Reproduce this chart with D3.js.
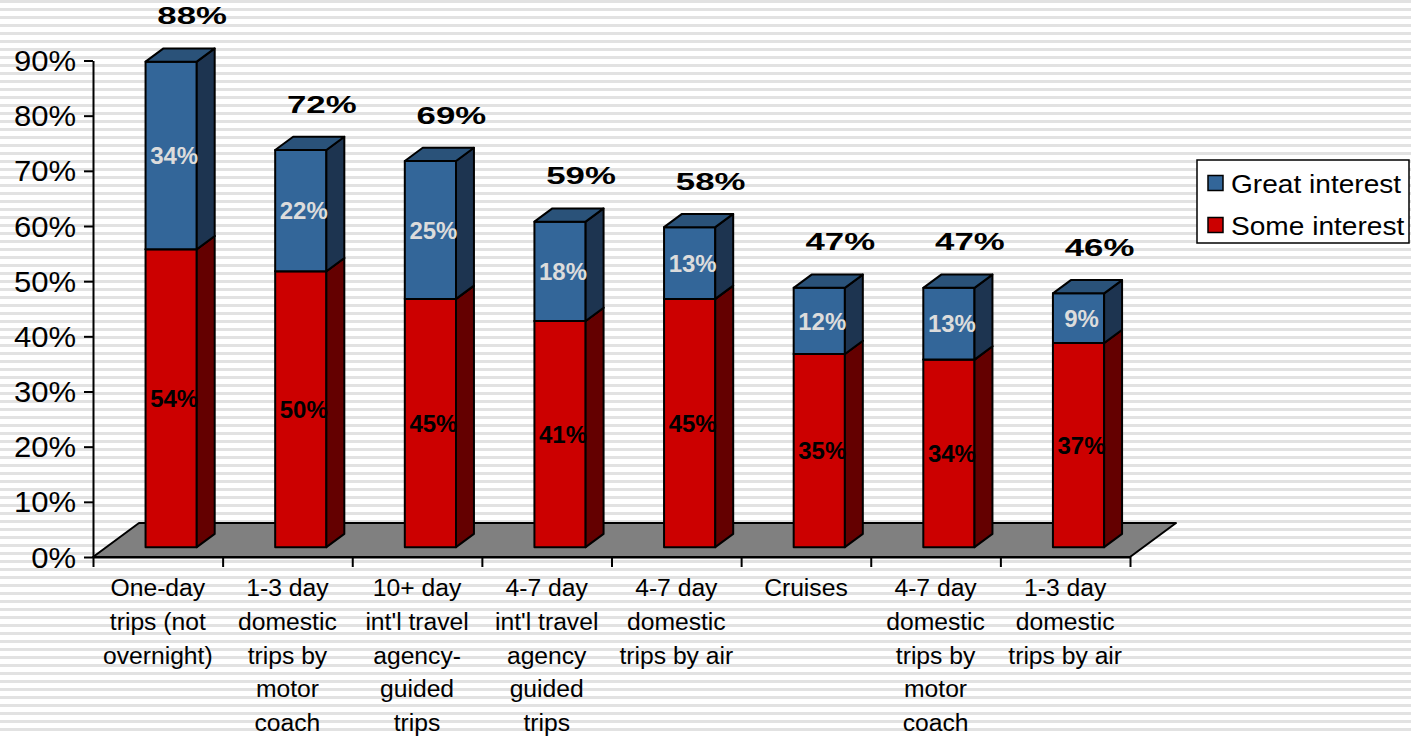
<!DOCTYPE html>
<html>
<head>
<meta charset="utf-8">
<script src="https://cdn.jsdelivr.net/npm/d3@7"></script>
<style>
  body { margin: 0; background: #fff; }
  svg { display: block; }
  text { font-family: "Liberation Sans", Arial, sans-serif; }
</style>
</head>
<body>
<svg id="chart" width="1411" height="736"></svg>
<script>
// Category labels, one entry per wrapped line
const categoryLines = [
  ["One-day", "trips (not", "overnight)"],
  ["1-3 day", "domestic", "trips by", "motor", "coach"],
  ["10+ day", "int'l travel", "agency-", "guided", "trips"],
  ["4-7 day", "int'l travel", "agency", "guided", "trips"],
  ["4-7 day", "domestic", "trips by air"],
  ["Cruises"],
  ["4-7 day", "domestic", "trips by", "motor", "coach"],
  ["1-3 day", "domestic", "trips by air"]
];
const someInterest  = [54, 50, 45, 41, 45, 35, 34, 37];
const greatInterest = [34, 22, 25, 18, 13, 12, 13, 9];
const totalLabels   = ["88%", "72%", "69%", "59%", "58%", "47%", "47%", "46%"];
const yTicks = [0, 10, 20, 30, 40, 50, 60, 70, 80, 90];
const seriesNames = ["Great interest", "Some interest"];

const W = 1411, H = 736;
const svg = d3.select("#chart");

// striped page background
const defs = svg.append("defs");
const pat = defs.append("pattern").attr("id", "stripes")
  .attr("width", 8).attr("height", 8).attr("patternUnits", "userSpaceOnUse");
pat.append("rect").attr("width", 8).attr("height", 8).attr("fill", "#ffffff");
pat.append("rect").attr("y", 0).attr("width", 8).attr("height", 3).attr("fill", "#e2e2e2");
svg.append("rect").attr("width", W).attr("height", H).attr("fill", "url(#stripes)");

// plot geometry
const x0 = 93, x1 = 1130, yBase = 557;
const depth = { dx: 46, dy: -34 };
const x = d3.scaleBand().domain(d3.range(categoryLines.length)).range([x0, x1]);
const xEdges = d3.scaleLinear().domain([0, categoryLines.length]).range([x0, x1]);
const y = d3.scaleLinear().domain([0, 90]).range([yBase, 60.5]);
const tFront = 0.29, tBack = 0.68;
const barW = x.bandwidth() * 0.395;
const ox = tFront * depth.dx, oy = tFront * depth.dy;
const bdx = (tBack - tFront) * depth.dx, bdy = (tBack - tFront) * depth.dy;

const colors = {
  great: { front: "#336699", side: "#1d3450", top: "#2a5279" },
  some:  { front: "#cc0000", side: "#640000", top: "#a00000" }
};

// floor
svg.append("polygon")
  .attr("points", [
    [x0, yBase], [x1, yBase],
    [x1 + depth.dx, yBase + depth.dy], [x0 + depth.dx, yBase + depth.dy]
  ].map(p => p.join(",")).join(" "))
  .attr("fill", "#808080").attr("stroke", "#000").attr("stroke-width", 2)
  .attr("stroke-linejoin", "round");

// axes
const yAxis = svg.append("g").attr("transform", `translate(${x0},0)`)
  .call(d3.axisLeft(y).tickValues(yTicks).tickFormat(d => d + "%")
    .tickSize(9).tickSizeOuter(0));
yAxis.select(".domain").attr("stroke", "#000").attr("stroke-width", 2);
yAxis.selectAll(".tick line").attr("stroke", "#000").attr("stroke-width", 2);
yAxis.selectAll(".tick text")
  .attr("x", 0).attr("dy", null)
  .attr("transform", "translate(-17,10) scale(1.07,1)")
  .attr("font-size", 29).attr("fill", "#000")
  .attr("font-family", "'Liberation Sans', Arial, sans-serif");

const xAxis = svg.append("g").attr("transform", `translate(0,${yBase})`)
  .call(d3.axisBottom(xEdges).tickValues(d3.range(categoryLines.length + 1))
    .tickFormat("").tickSize(10).tickSizeOuter(0));
xAxis.select(".domain").attr("stroke", "#000").attr("stroke-width", 2);
xAxis.selectAll(".tick line").attr("stroke", "#000").attr("stroke-width", 2);

// category labels
const catG = svg.append("g");
categoryLines.forEach((lines, i) => {
  const cx = x(i) + x.bandwidth() / 2;
  lines.forEach((ln, k) => {
    catG.append("text")
      .attr("transform", `translate(${cx},${596 + k * 33.8}) scale(1.05,1)`)
      .attr("text-anchor", "middle").attr("font-size", 23.5).attr("fill", "#000")
      .text(ln);
  });
});

// 3D bars
const pts = a => a.map(p => p.join(",")).join(" ");
function drawSegment(g, i, v0, v1, c) {
  const fx = x(i) + x.bandwidth() / 2 - barW / 2 + ox;
  const yTop = y(v1) + oy, yBot = y(v0) + oy;
  const seg = g.append("g").attr("stroke", "#000").attr("stroke-width", 2)
    .attr("stroke-linejoin", "round");
  seg.append("rect").attr("x", fx).attr("y", yTop)
    .attr("width", barW).attr("height", yBot - yTop).attr("fill", c.front);
  seg.append("polygon").attr("points", pts([
    [fx + barW, yBot], [fx + barW + bdx, yBot + bdy],
    [fx + barW + bdx, yTop + bdy], [fx + barW, yTop]
  ])).attr("fill", c.side);
  seg.append("polygon").attr("points", pts([
    [fx, yTop], [fx + bdx, yTop + bdy],
    [fx + barW + bdx, yTop + bdy], [fx + barW, yTop]
  ])).attr("fill", c.top);
}

const barsG = svg.append("g");
const labelG = svg.append("g");
categoryLines.forEach((_, i) => {
  const s = someInterest[i], g = greatInterest[i];
  drawSegment(barsG, i, 0, s, colors.some);
  drawSegment(barsG, i, s, s + g, colors.great);

  const cx = x(i) + x.bandwidth() / 2 + ox + 3;
  labelG.append("text")
    .attr("x", cx).attr("y", y(s / 2) + oy + 8.6)
    .attr("text-anchor", "middle").attr("font-size", 24).attr("font-weight", "bold")
    .attr("fill", "#000").text(s + "%");
  labelG.append("text")
    .attr("x", cx).attr("y", y(s + g / 2) + oy + 8.6)
    .attr("text-anchor", "middle").attr("font-size", 24).attr("font-weight", "bold")
    .attr("fill", "#dcdcdc").text(g + "%");

  labelG.append("text")
    .attr("transform", `translate(${cx + 18},${y(s + g) + oy - 46 + 8.6}) scale(1.45,1)`)
    .attr("text-anchor", "middle").attr("font-size", 24).attr("font-weight", "bold")
    .attr("fill", "#000").text(totalLabels[i]);
});

// legend
const legend = svg.append("g").attr("transform", "translate(1197,160)");
legend.append("rect").attr("width", 212).attr("height", 83)
  .attr("fill", "#fff").attr("stroke", "#000").attr("stroke-width", 1.5);
const legendColors = [colors.great.front, colors.some.front];
seriesNames.forEach((name, k) => {
  const cy = 23 + k * 42;
  legend.append("rect").attr("x", 11).attr("y", cy - 7.5)
    .attr("width", 15).attr("height", 15)
    .attr("fill", legendColors[k]).attr("stroke", "#000").attr("stroke-width", 1.5);
  legend.append("text")
    .attr("transform", `translate(34,${cy + 9.5}) scale(1.06,1)`)
    .attr("font-size", 26.5).attr("fill", "#000").text(name);
});
</script>
</body>
</html>
